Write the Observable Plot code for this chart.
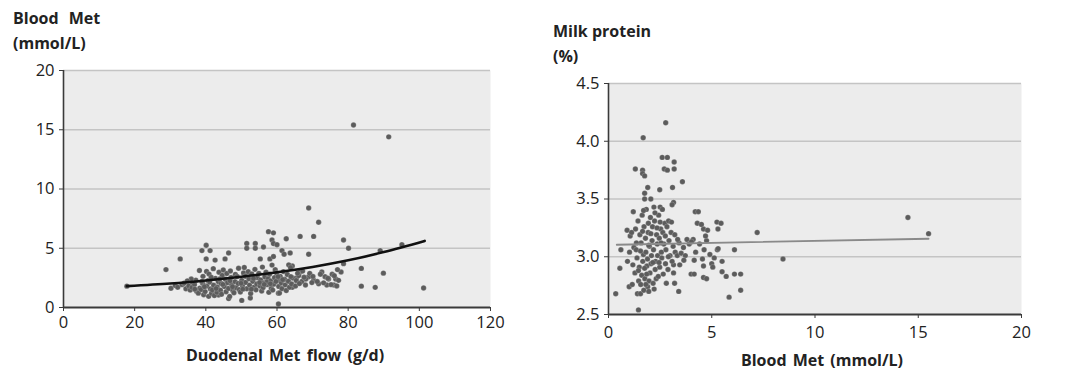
<!DOCTYPE html>
<html>
<head>
<meta charset="utf-8">
<script src="https://cdn.jsdelivr.net/npm/d3@7"></script>
<script src="https://cdn.jsdelivr.net/npm/@observablehq/plot@0.6"></script>
<style>
  html, body { margin: 0; padding: 0; background: #fff; }
  #wrap { position: relative; width: 1080px; height: 385px; overflow: hidden; font-family: "Open Sans", "DejaVu Sans", sans-serif; color: #222; }
  .panel { position: absolute; top: 0; width: 540px; height: 385px; }
  .lbl { position: absolute; font-size: 16px; font-weight: 700; line-height: 25px; white-space: nowrap; color: #222; }
</style>
</head>
<body>
<div id="wrap">
  <div class="panel" id="left" style="left:0"></div>
  <div class="panel" id="right" style="left:540px"></div>
  <div class="lbl" style="left:13px; top:5.5px"><span style="word-spacing:6px">Blood Met</span><br>(mmol/L)</div>
  <div class="lbl" style="left:553px; top:18.5px">Milk protein<br>(%)</div>
  <div class="lbl" style="left:0; width:570px; text-align:center; top:342.5px; word-spacing:2px">Duodenal Met flow (g/d)</div>
  <div class="lbl" style="left:540px; width:564px; text-align:center; top:347.5px; word-spacing:2px">Blood Met (mmol/L)</div>
</div>
<script>
// ---- Left panel: Duodenal Met flow (g/d) vs Blood Met (mmol/L)
const leftXTicks = [0, 20, 40, 60, 80, 100, 120];
const leftYTicks = [0, 5, 10, 15, 20];
const leftPoints = [
  [17.8,1.8],[28.8,3.2],[32.8,4.1],[40.1,5.25],[38.9,4.8],[41.2,4.8],[40.1,4.1],[42.6,4.0],[46.4,4.6],[45.4,4.1],
  [51.5,5.4],[51.5,5.0],[53.9,5.4],[53.9,5.0],[56.2,5.1],[55.3,4.1],[57.6,6.4],[59.0,6.3],[58.6,5.7],[59.0,5.4],
  [60.0,5.3],[58.0,4.1],[59.0,4.3],[61.4,4.8],[62.0,4.5],[63.7,4.6],[62.6,5.8],[66.5,6.0],[68.9,8.4],[71.7,7.2],
  [70.3,6.0],[68.9,4.5],[78.7,5.7],[80.1,5.0],[81.5,15.4],[91.4,14.4],[83.7,3.3],[83.7,1.8],[87.6,1.7],[89.9,2.9],
  [89.0,4.8],[95.1,5.3],[101.2,1.65],[78.0,3.0],[77.0,3.2],[78.7,3.7],[75.5,2.8],[74.5,2.4],[76.5,2.4],[76.0,1.9],
  [73.5,2.6],[74.0,1.9],[72.6,3.0],[70.3,2.3],[71.7,2.0],[68.9,2.6],[67.0,2.2],[68.0,1.9],[66.5,3.0],[64.3,3.5],
  [65.5,2.5],[64.3,1.7],[63.3,3.6],[60.4,1.2],[60.4,0.3],[50.1,0.6],[52.5,0.8],[46.4,0.75],[43.6,1.05],
  [30.2,1.62],[31.4,1.85],[32.1,1.71],[33.3,1.93],[33.9,2.05],[34.4,1.58],[35.2,1.82],[35.6,1.47],[36.3,2.12],[36.1,1.69],
  [37.4,1.38],[36.8,1.95],[37.2,2.31],[38.3,1.63],[37.9,1.21],[38.2,3.12],[39.1,2.04],[38.7,1.52],[39.4,1.08],[39.2,2.63],
  [40.3,1.81],[39.8,1.34],[40.6,2.27],[40.2,3.04],[40.8,0.94],[41.3,1.57],[41.1,2.14],[41.6,1.19],[40.9,2.82],[42.2,1.88],
  [42.4,1.01],[41.8,1.48],[42.7,2.46],[42.1,3.28],[43.2,1.73],[43.5,2.19],[43.1,1.29],[43.7,2.98],[44.3,2.02],[44.1,1.46],
  [44.6,2.71],[44.4,1.12],[45.2,1.78],[45.5,2.38],[44.9,3.17],[45.7,1.33],[46.1,2.09],[46.4,1.61],[45.9,2.87],[46.7,0.93],
  [47.3,1.92],[47.1,2.53],[47.6,1.42],[46.9,3.08],[48.2,2.18],[48.5,1.67],[47.9,1.24],[48.3,2.79],[49.1,2.03],[49.4,1.51],
  [48.8,2.61],[49.2,3.31],[50.3,1.83],[50.1,2.29],[49.7,1.31],[50.6,2.92],[51.2,2.12],[51.5,1.58],[50.8,3.38],[51.1,2.64],
  [52.3,1.89],[52.1,2.42],[52.6,1.18],[51.9,3.02],[53.2,2.21],[53.6,1.72],[52.9,2.83],[54.3,1.98],[54.1,1.49],[54.5,2.51],
  [53.8,3.22],[55.2,1.81],[55.4,2.33],[54.9,2.88],[55.7,1.39],[56.3,2.08],[56.1,1.68],[56.6,2.58],[55.9,3.41],[57.2,1.93],
  [57.5,2.43],[56.9,2.97],[57.7,1.28],[58.2,2.23],[58.4,1.62],[57.9,2.81],[58.6,3.58],[59.1,1.97],[59.3,2.52],[58.8,1.47],
  [59.5,3.19],[60.2,2.31],[60.5,1.78],[59.9,2.91],[60.7,1.22],[61.2,2.07],[61.4,1.59],[60.9,2.63],[62.3,1.91],[62.1,2.38],
  [61.8,3.03],[62.6,1.43],[63.2,2.21],[63.5,1.71],[62.9,2.79],[64.1,1.98],[64.4,2.49],[63.8,3.37],[65.2,1.82],[65.4,2.28],
  [66.1,2.69],[66.3,2.02],[67.2,3.07],[68.1,2.41],[69.2,2.88],[70.1,2.62],[71.3,2.19],[72.2,2.81],[73.1,2.08],[74.3,2.47],
  [75.2,1.93],[76.1,2.68],[77.3,2.29],[76.8,1.82],
  [35.9,2.4],[38.9,2.2],[41.5,2.55],[43.9,2.4],[46.8,2.25],[49.9,2.05],[52.8,1.55],[55.1,2.1],[57.1,2.15],[59.7,2.2],
  [61.6,2.35],[63.9,2.6],[65.8,2.9],[67.6,2.55],[69.8,2.1],[44.8,1.95],[47.5,1.75],[50.4,1.55],[53.4,2.45],[56.4,1.95],
  [42.9,1.6],[39.6,1.75],[36.9,1.55],[34.8,2.25],[60.3,2.6],[58.1,2.0]
];
// trend curve
const leftTrendX = [17.8, 30, 40, 50, 60, 70, 80, 90, 101.5];
const leftTrendY = [1.80, 2.02, 2.28, 2.60, 2.97, 3.42, 3.98, 4.68, 5.62];

// ---- Right panel: Blood Met (mmol/L) vs Milk protein (%)
const rightXTicks = [0, 5, 10, 15, 20];
const rightYTicks = [2.5, 3.0, 3.5, 4.0, 4.5];
const rightPoints = [
  [2.77,4.16],[1.68,4.03],[2.6,3.86],[2.85,3.86],[2.7,3.76],[2.85,3.75],[3.18,3.82],[3.18,3.76],[1.3,3.76],[1.65,3.75],
  [1.65,3.72],[1.75,3.7],[3.58,3.65],[2.48,3.58],[3.1,3.6],[3.15,3.47],[3.08,3.45],[1.9,3.6],[1.75,3.55],[1.75,3.5],
  [2.05,3.5],[2.2,3.43],[2.5,3.43],[1.2,3.39],[4.2,3.39],[4.35,3.39],[14.5,3.34],[15.5,3.2],[7.2,3.21],[8.45,2.98],
  [5.25,3.3],[5.45,3.29],[4.6,3.24],[4.8,3.23],[5.3,3.24],[4.75,3.14],[4.7,3.18],[4.3,3.29],[4.5,3.28],[3.8,3.15],
  [4.1,3.15],[6.1,3.06],[5.27,3.06],[0.6,3.06],[0.55,2.9],[0.35,2.68],[1.45,2.54],[5.84,2.65],[6.4,2.71],[6.1,2.85],
  [6.4,2.85],[5.7,2.83],[5.5,2.87],[5.5,2.96],[5.0,2.94],[5.05,2.91],[4.55,2.98],[4.6,2.92],[4.15,2.97],[4.0,2.85],
  [4.15,2.85],[4.6,2.82],[4.75,2.81],[3.4,2.7],[2.8,2.77],[3.2,2.77],[3.15,2.86],[3.15,2.93],[1.0,2.74],[1.15,2.76],
  [1.4,2.68],[1.55,2.68],[1.9,2.74],[0.9,3.23],[1.05,3.18],
  [1.12,3.21],[1.23,3.08],[1.18,2.93],[1.34,3.06],[1.28,2.86],[1.43,3.31],[1.38,2.99],[1.46,2.79],[1.52,3.19],[1.49,2.91],
  [1.56,2.76],[1.63,3.36],[1.58,3.12],[1.66,2.96],[1.61,2.84],[1.72,3.26],[1.69,3.02],[1.76,2.81],[1.71,2.71],[1.83,3.41],
  [1.79,3.16],[1.86,2.92],[1.81,3.04],[1.93,3.29],[1.89,2.98],[1.96,2.79],[1.92,3.21],[2.03,3.34],[1.98,3.09],[2.06,2.94],
  [2.01,2.86],[2.13,3.26],[2.08,3.01],[2.16,2.77],[2.11,3.14],[2.23,3.31],[2.18,3.06],[2.26,2.89],[2.33,3.19],[2.28,2.96],
  [2.36,3.11],[2.31,2.81],[2.43,3.36],[2.38,3.01],[2.46,3.16],[2.53,3.24],[2.48,2.91],[2.56,3.04],[2.63,3.21],[2.58,2.99],
  [2.73,3.29],[2.68,3.11],[2.76,2.94],[2.83,3.26],[2.78,3.06],[2.93,3.14],[2.88,2.89],[3.03,3.21],[2.98,3.01],[3.13,3.09],
  [3.08,2.96],[3.23,3.04],[3.33,3.01],[3.42,3.12],[3.52,3.03],[3.63,3.08],[3.72,3.01],[3.91,3.11],[4.02,3.13],[4.22,3.04],
  [4.41,3.11],[4.63,3.06],[4.91,3.02],[5.12,2.99],[5.31,3.07],[1.02,3.04],[0.92,2.96],[1.31,3.24],[2.61,3.41],[2.91,3.31],
  [3.21,3.19],[2.21,2.72],[1.81,2.76],[2.41,2.83],
  [1.55,3.05],[1.75,2.9],[1.95,3.1],[2.15,2.95],[2.35,3.25],[2.55,3.12],[2.05,3.2],[1.65,3.22],[1.45,2.88],[2.45,2.95],
  [2.75,3.18],[3.35,3.15],[3.05,3.3],[2.25,3.38],[1.85,2.85],[1.35,3.12],[2.65,2.85],[3.45,2.93],[3.65,2.97],[1.95,2.7],
  [2.5,3.3],[1.7,3.4],[2.9,3.0]
];
const rightTrendX = [0.4, 15.5];
const rightTrendY = [3.104, 3.156];

const fontFam = '"Open Sans", "DejaVu Sans", sans-serif';
const dotColor = "#5c5c5c";

function panel({points, trendX, trendY, trendColor, trendWidth, xDomain, yDomain, xTicks, yTicks, yFormat, xPad, margins}) {
  const trend = trendX.map((x, i) => ({x, y: trendY[i]}));
  return Plot.plot({
    width: 540,
    height: 385,
    ...margins,
    style: {background: "transparent", fontFamily: fontFam, fontSize: "16.5px", color: "#222", overflow: "visible"},
    x: {domain: xDomain, label: null},
    y: {domain: yDomain, label: null},
    marks: [
      Plot.frame({fill: "#ececec", stroke: null}),
      Plot.ruleY(yTicks.slice(1), {stroke: "#c4c4c4", strokeWidth: 1.6}),
      Plot.dot(points, {x: d => d[0], y: d => d[1], r: 2.7, fill: dotColor, stroke: "#ffffff", strokeOpacity: 0.3, strokeWidth: 0.6}),
      Plot.line(trend, {x: "x", y: "y", stroke: trendColor, strokeWidth: trendWidth, curve: "natural"}),
      Plot.ruleX([xDomain[0]], {stroke: "#3a3a3a", strokeWidth: 1.6}),
      Plot.ruleY([yDomain[0]], {stroke: "#3a3a3a", strokeWidth: 2}),
      Plot.axisX({ticks: xTicks, tickSize: 4, tickPadding: xPad, stroke: "#3a3a3a", fill: "#222", fontSize: 16.5}),
      Plot.axisY({ticks: yTicks, tickSize: 4, tickPadding: 5, tickFormat: yFormat, stroke: "#3a3a3a", fill: "#222", fontSize: 16.5})
    ]
  });
}

document.getElementById("left").appendChild(panel({
  points: leftPoints, trendX: leftTrendX, trendY: leftTrendY,
  trendColor: "#111", trendWidth: 2.6,
  xDomain: [0, 120], yDomain: [0, 20], xTicks: leftXTicks, yTicks: leftYTicks,
  yFormat: d3.format("d"), xPad: 5,
  margins: {marginLeft: 63, marginRight: 50, marginTop: 70, marginBottom: 78}
}));

document.getElementById("right").appendChild(panel({
  points: rightPoints, trendX: rightTrendX, trendY: rightTrendY,
  trendColor: "#8a8a8a", trendWidth: 1.8,
  xDomain: [0, 20], yDomain: [2.5, 4.5], xTicks: rightXTicks, yTicks: rightYTicks,
  yFormat: d3.format(".1f"), xPad: 8,
  margins: {marginLeft: 68, marginRight: 59, marginTop: 83, marginBottom: 71}
}));
</script>
</body>
</html>
